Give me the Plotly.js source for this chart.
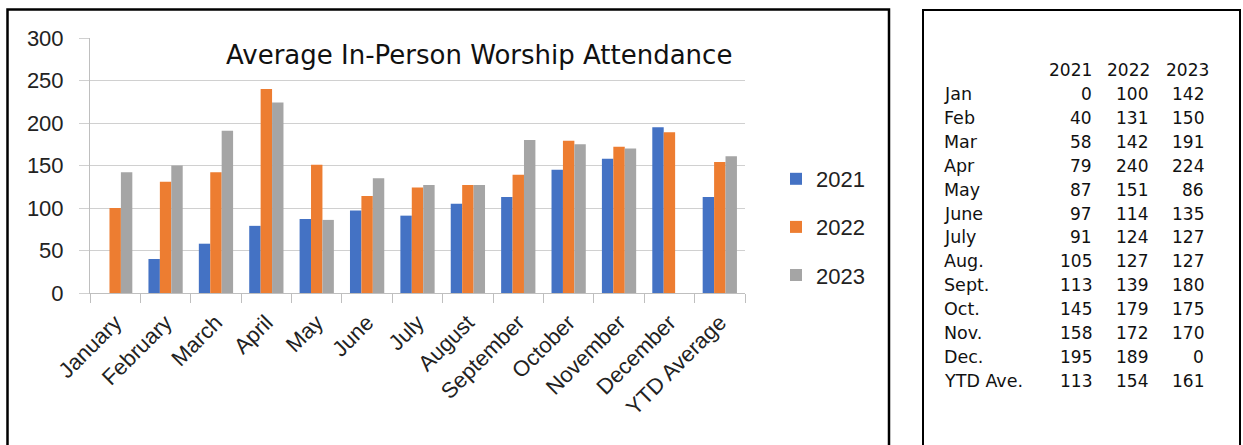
<!DOCTYPE html>
<html>
<head>
<meta charset="utf-8">
<script src="https://cdn.plot.ly/plotly-3.0.1.min.js"></script>
<style>html,body{margin:0;padding:0;background:#fff;}#chart{width:1243px;height:445px;}</style>
</head>
<body>
<div id="chart"></div>
<script>
const categories = ["January","February","March","April","May","June","July","August","September","October","November","December","YTD Average"];
const years = ["2021","2022","2023"];
const v2021 = [0,40,58,79,87,97,91,105,113,145,158,195,113];
const v2022 = [100,131,142,240,151,114,124,127,139,179,172,189,154];
const v2023 = [142,150,191,224,86,135,127,127,180,175,170,0,161];
const tableRows = ["Jan","Feb","Mar","Apr","May","June","July","Aug.","Sept.","Oct.","Nov.","Dec.","YTD Ave."];
const yTicks = [0,50,100,150,200,250,300];
const colors = ["#4472C4","#ED7D31","#A5A5A5"];

const W = 1243, H = 445;
const px = x => x / W;
const py = y => (H - y) / H;

const series = [v2021, v2022, v2023];
const traces = series.map((vals, i) => ({
  type: "bar",
  x: categories,
  y: vals,
  name: years[i],
  legendgroup: years[i],
  marker: {color: colors[i]},
  hoverinfo: "x+y+name"
}));

const gothic = "'DejaVu Sans', 'Liberation Sans', sans-serif";
const annotations = [{
  text: "Average In-Person Worship Attendance",
  xref: "paper", yref: "paper", x: px(479), y: py(55),
  xanchor: "center", yanchor: "middle", showarrow: false,
  font: {family: gothic, size: 26, color: "#111"}
}];

// table
const colRight = [1094, 1150, 1206];
const headRight = [1094, 1152, 1211];
years.forEach((yr, j) => annotations.push({
  text: yr, xref: "paper", yref: "paper", x: px(headRight[j]), y: py(70),
  xanchor: "right", yanchor: "middle", showarrow: false,
  font: {family: gothic, size: 17, color: "#111"}
}));
tableRows.forEach((r, i) => {
  const yy = 94 + i * 23.9;
  annotations.push({
    text: r, xref: "paper", yref: "paper", x: px(942), y: py(yy),
    xanchor: "left", yanchor: "middle", showarrow: false,
    font: {family: gothic, size: 17.5, color: "#111"}
  });
  series.forEach((vals, j) => annotations.push({
    text: String(vals[i]), xref: "paper", yref: "paper", x: px(colRight[j]), y: py(yy),
    xanchor: "right", yanchor: "middle", showarrow: false,
    font: {family: gothic, size: 17, color: "#111"}
  }));
});

const shapes = [
  {type: "rect", xref: "paper", yref: "paper", x0: px(7.5), x1: px(889), y0: py(452), y1: py(9.5), line: {color: "#000", width: 2.5}},
  {type: "rect", xref: "paper", yref: "paper", x0: px(923), x1: px(1240), y0: py(452), y1: py(10), line: {color: "#000", width: 2}}
];

const layout = {
  width: W, height: H,
  margin: {l: 0, r: 0, t: 0, b: 0},
  paper_bgcolor: "#fff", plot_bgcolor: "#fff",
  barmode: "group", bargap: 0.32, bargroupgap: 0,
  showlegend: true,
  legend: {
    x: px(776), y: py(158), xanchor: "left", yanchor: "top",
    font: {family: "'Liberation Sans', sans-serif", size: 22, color: "#222"},
    traceorder: "grouped", tracegroupgap: 16.5, bgcolor: "rgba(0,0,0,0)"
  },
  xaxis: {
    domain: [px(90), px(745)],
    type: "category",
    tickangle: -45,
    tickson: "boundaries",
    ticks: "outside", ticklen: 9, tickcolor: "#bfbfbf",
    ticklabelstandoff: 7,
    showgrid: false,
    showline: true, linecolor: "#bfbfbf", linewidth: 1,
    tickfont: {family: "'Liberation Sans', sans-serif", size: 22, color: "#222"},
    automargin: false, fixedrange: true
  },
  yaxis: {
    domain: [py(293), py(38)],
    range: [0, 300],
    tickvals: yTicks,
    ticks: "outside", ticklen: 10, tickcolor: "#d0d0d0",
    ticklabelstandoff: 11,
    showgrid: true, gridcolor: "#d0d0d0", gridwidth: 1,
    zeroline: false,
    showline: true, linecolor: "#bfbfbf", linewidth: 1,
    tickfont: {family: "'Liberation Sans', sans-serif", size: 22, color: "#222"},
    automargin: false, fixedrange: true
  },
  annotations: annotations,
  shapes: shapes
};

Plotly.newPlot("chart", traces, layout, {displayModeBar: false, staticPlot: false});
</script>
</body>
</html>
